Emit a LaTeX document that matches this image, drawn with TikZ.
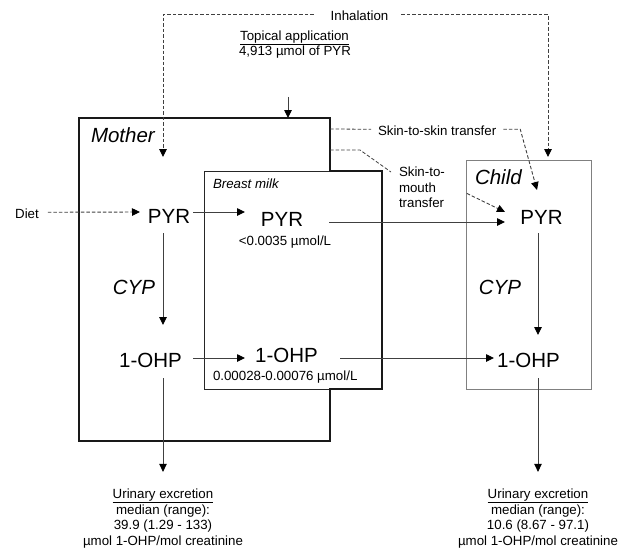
\documentclass[tikz,border=0pt]{standalone}
\usepackage{fontspec}
\setmainfont{Liberation Sans}
\usetikzlibrary{arrows.meta,calc}
\begin{document}
\begin{tikzpicture}[x=1pt,y=-1pt,
  big/.style={font=\fontsize{20.5}{24}\selectfont, inner sep=0pt, outer sep=0pt},
  bigit/.style={font=\fontsize{20.5}{24}\selectfont\itshape, inner sep=0pt, outer sep=0pt},
  small/.style={font=\fontsize{13.3}{15.5}\selectfont, inner sep=0pt, outer sep=0pt},
  smallit/.style={font=\fontsize{13.3}{15.5}\selectfont\itshape, inner sep=0pt, outer sep=0pt},
  arr/.style={draw=black!75, line width=0.9pt, -{Triangle[length=8pt,width=7.5pt,color=black]}},
  dsh/.style={draw=black!75, line width=0.8pt, dash pattern=on 3.5pt off 2pt},
  motherbox/.style={draw=black!90, line width=2.2pt, line join=miter},
  milkbox/.style={draw=black!85, line width=1pt},
  childbox/.style={draw=black!50, line width=1pt}
]
\useasboundingbox (0,0) rectangle (631,550);

% boxes
\draw[milkbox] (204,171) rectangle (382,389);
\draw[childbox] (466,160) rectangle (591,389);
\draw[motherbox] (79,118) -- (330,118) -- (330,171) -- (382,171) -- (382,389)
  -- (330,389) -- (330,441) -- (79,441) -- cycle;
\coordinate (mTop) at (288,118);
\coordinate (mE1) at (330,129);
\coordinate (mE2) at (330,150);
\coordinate (inhL) at (163,157);
\coordinate (inhR) at (548,157);

% large labels
\node[bigit, anchor=base west] (mother) at (91,142) {Mother};
\node[bigit, anchor=base west] (child) at (475,184) {Child};
\node[big] (mPYR) at (169,216) {PYR};
\node[big] (bPYR) at (282,219) {PYR};
\node[big] (cPYR) at (541.5,217.5) {PYR};
\node[bigit] (mCYP) at (134,287) {CYP};
\node[bigit] (cCYP) at (500,287) {CYP};
\node[big] (m1) at (150.5,360) {1-OHP};
\node[big] (b1) at (286.5,355) {1-OHP};
\node[big] (c1) at (528.5,360) {1-OHP};

% small labels
\node[small, anchor=base] (inh) at (359.5,20) {Inhalation};
\node[small, anchor=base] (top1) at (294.5,40) {\underline{Topical application}};
\node[small, anchor=base] (top2) at (295,55) {4,913 µmol of PYR};
\node[small, anchor=base west] (sts) at (378,135) {Skin-to-skin transfer};
\node[small, anchor=north west, align=left] (stm) at (399,167) {Skin-to-\\mouth\\transfer};
\node[small, anchor=base] (diet) at (27,218) {Diet};
\node[smallit, anchor=base west] (bm) at (213,188) {Breast milk};
\node[small, anchor=base] (conc1) at (285,245) {<0.0035 µmol/L};
\node[small, anchor=base west] (conc2) at (213,380) {0.00028-0.00076 µmol/L};

\node[small, anchor=base] (urM1) at (163,498.5) {\underline{Urinary excretion}};
\node[small, anchor=base] (urM2) at (163,514) {median (range):};
\node[small, anchor=base] (urM3) at (163,529.5) {39.9 (1.29 - 133)};
\node[small, anchor=base] (urM4) at (163,545) {µmol 1-OHP/mol creatinine};
\node[small, anchor=base] (urC1) at (538,498.5) {\underline{Urinary excretion}};
\node[small, anchor=base] (urC2) at (538,514) {median (range):};
\node[small, anchor=base] (urC3) at (538,529.5) {10.6 (8.67 - 97.1)};
\node[small, anchor=base] (urC4) at (538,545) {µmol 1-OHP/mol creatinine};

% solid arrows
\draw[arr] ($(mPYR)+(24,-4)$) -- ($(bPYR)+(-37,-7)$);
\draw[arr] ($(bPYR)+(47,3)$) -- ($(cPYR)+(-36.5,4.5)$);
\draw[arr] ($(mPYR)+(-6,17)$) -- ($(m1)+(12.5,-35)$);
\draw[arr] ($(m1)+(12.5,18)$) -- ($(urM1.north)+(0,-17)$);
\draw[arr] ($(m1)+(42.5,-2)$) -- ($(b1)+(-41.5,3)$);
\draw[arr] ($(b1)+(53.5,3)$) -- ($(c1)+(-34.5,-2)$);
\draw[arr] ($(cPYR)+(-3.5,15.5)$) -- ($(c1)+(9.5,-25)$);
\draw[arr] ($(c1)+(9.5,18)$) -- ($(urC1.north)+(0,-17)$);
\draw[arr] ($(top2.south)+(-7,39)$) -- (mTop);

% dashed connectors
\draw[dsh,arr] ($(diet.east)+(9,-1)$) -- ($(mPYR)+(-29,-4)$);
\draw[dsh,arr] ($(inh.west)+(-17,-1)$) -| (inhL);
\draw[dsh,arr] ($(inh.east)+(13,-1)$) -| (inhR);
\draw[dsh] (mE1) -- ($(sts.west)+(-7,-1)$);
\draw[dsh,arr] ($(sts.east)+(7,-1)$) -- ($(sts.east)+(24,-1)$) -- ($(cPYR)+(-4.5,-27.5)$);
\draw[dsh] (mE2) -- ($(stm.north west)+(-39,-17)$) -- ($(stm.north west)+(-8,5)$);
\draw[dsh,arr] ($(stm.east)+(22,6)$) -- ($(cPYR)+(-36.5,-5.5)$);
\end{tikzpicture}
\end{document}
